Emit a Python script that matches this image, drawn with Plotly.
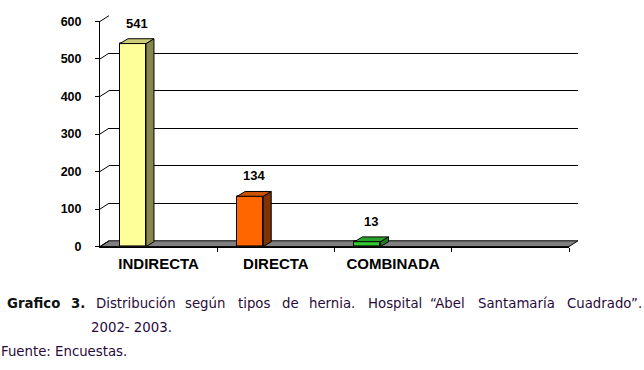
import plotly.graph_objects as go

# ---- data ----
categories = ["INDIRECTA", "DIRECTA", "COMBINADA"]
values = [541, 134, 13]
front_colors = ["#FFFF99", "#FF6600", "#33CC33"]
top_colors = ["#CCCC7A", "#CC5200", "#29A329"]
side_colors = ["#86864F", "#803300", "#1A801A"]
y_ticks = [0, 100, 200, 300, 400, 500, 600]
n_slots = 4  # one empty slot on the right

caption_line1 = [("Grafico", True, 6), ("3.", True, 70), ("Distribución", False, 95),
                 ("según", False, 184), ("tipos", False, 237), ("de", False, 281),
                 ("hernia.", False, 308), ("Hospital", False, 367), ("“Abel", False, 429),
                 ("Santamaría", False, 477), ("Cuadrado”.", False, 566)]
caption_line2 = "2002- 2003."
caption_line3 = "Fuente: Encuestas."

# ---- layout geometry (pixels) ----
W, H = 644, 370
FX0, FX1 = 100, 569      # front plot x extent
FY0, FY1 = 249, 15       # front y pixel of 0 and 600
DX, DY = 9, 6            # wall depth offset
BDX, BDY = 8, 5          # bar depth offset
BAR_OFF, BAR_W = -0.33, 0.222

xr = [-0.5, n_slots - 0.5]
yr = [0, 600]
px_per_x = (FX1 - FX0) / (xr[1] - xr[0])
px_per_y = (FY0 - FY1) / (yr[1] - yr[0])
dxu = BDX / px_per_x
dyu = BDY / px_per_y

def fx(px):
    return px / W

def fy(py):
    return 1 - py / H

def ypx(v):
    return FY0 - (v - yr[0]) * px_per_y

fig = go.Figure()

# front faces
fig.add_trace(go.Bar(
    x=list(range(len(values))), y=values, width=BAR_W, offset=BAR_OFF,
    marker=dict(color=front_colors, line=dict(color="black", width=1)),
    xaxis="x2", yaxis="y2", hoverinfo="skip", showlegend=False))

# side and top faces computed from values
for i, v in enumerate(values):
    x0 = i + BAR_OFF
    x1 = x0 + BAR_W
    fig.add_trace(go.Scatter(
        x=[x1, x1 + dxu, x1 + dxu, x1, x1], y=[0, dyu, v + dyu, v, 0],
        fill="toself", fillcolor=side_colors[i], mode="lines",
        line=dict(color="black", width=1), xaxis="x2", yaxis="y2",
        hoverinfo="skip", showlegend=False))
    fig.add_trace(go.Scatter(
        x=[x0, x0 + dxu, x1 + dxu, x1, x0], y=[v, v + dyu, v + dyu, v, v],
        fill="toself", fillcolor=top_colors[i], mode="lines",
        line=dict(color="black", width=1), xaxis="x2", yaxis="y2",
        hoverinfo="skip", showlegend=False))
    fig.add_annotation(
        x=x0 + (BAR_W + dxu) / 2, y=v + dyu, xref="x2", yref="y2",
        text=str(v), showarrow=False, yanchor="bottom", yshift=6,
        font=dict(family="Liberation Sans, Arial", size=13, color="black", weight="bold"))

# dummy trace to activate back-wall subplot
fig.add_trace(go.Scatter(x=[None], y=[None], xaxis="x", yaxis="y",
                         showlegend=False, hoverinfo="skip"))

shapes = []
# floor
shapes.append(dict(
    type="path", xref="paper", yref="paper", layer="below",
    path=f"M {fx(FX0)} {fy(FY0)} L {fx(FX1)} {fy(FY0)} L {fx(FX1 + DX)} {fy(FY0 - DY)} "
         f"L {fx(FX0 + DX)} {fy(FY0 - DY)} Z",
    fillcolor="#808080", line=dict(color="black", width=1)))
# diagonal connectors from front axis ticks to back wall gridlines
for t in y_ticks:
    shapes.append(dict(
        type="line", xref="paper", yref="paper", layer="above",
        x0=fx(FX0), y0=fy(ypx(t)), x1=fx(FX0 + DX), y1=fy(ypx(t) - DY),
        line=dict(color="black", width=1)))

# caption
cap_font = "DejaVu Sans, Verdana"
CAP_SIZE = 13.3
for word, bold, xp in caption_line1:
    fig.add_annotation(
        x=fx(xp), y=fy(308), xref="paper", yref="paper", text=word, showarrow=False,
        xanchor="left", yanchor="middle", borderpad=0,
        font=dict(family=cap_font, size=CAP_SIZE, color="#111111" if bold else "#2a0a3a",
                  weight="bold" if bold else "normal"))
fig.add_annotation(
    x=fx(90), y=fy(333), xref="paper", yref="paper", text=caption_line2, showarrow=False,
    xanchor="left", yanchor="middle", borderpad=0,
    font=dict(family=cap_font, size=CAP_SIZE, color="#2a0a3a"))
fig.add_annotation(
    x=fx(0), y=fy(358), xref="paper", yref="paper", text=caption_line3, showarrow=False,
    xanchor="left", yanchor="middle", borderpad=0,
    font=dict(family=cap_font, size=CAP_SIZE, color="#2a0a3a"))

axis_font = dict(family="Liberation Sans, Arial", color="black", weight="bold")

fig.update_layout(
    width=W, height=H,
    margin=dict(l=0, r=0, t=0, b=0),
    paper_bgcolor="white", plot_bgcolor="rgba(0,0,0,0)",
    shapes=shapes,
    bargap=0,
    # back wall
    xaxis=dict(domain=[fx(FX0 + DX), fx(FX1 + DX)], range=xr, visible=False,
               anchor="y", fixedrange=True),
    yaxis=dict(domain=[fy(FY0 - DY), fy(FY1 - DY)], range=yr, anchor="x",
               tickvals=y_ticks, showticklabels=False, ticks="",
               showgrid=True, gridcolor="black", gridwidth=1,
               zeroline=False, showline=False, fixedrange=True),
    # front
    xaxis2=dict(domain=[fx(FX0), fx(FX1)], range=xr, anchor="y2",
                tickvals=list(range(len(categories))), ticktext=categories,
                ticks="", showgrid=False, zeroline=False,
                showline=True, linecolor="black", linewidth=1,
                minor=dict(tickvals=[k + 0.5 for k in range(n_slots)], ticks="outside",
                           ticklen=4, tickcolor="black", tickwidth=1, showgrid=False),
                tickfont=dict(size=15, **axis_font), ticklabelstandoff=3,
                fixedrange=True),
    yaxis2=dict(domain=[fy(FY0), fy(FY1)], range=yr, anchor="x2",
                tickvals=y_ticks, ticks="outside", ticklen=4, tickcolor="black",
                showgrid=False, zeroline=False,
                showline=True, linecolor="black", linewidth=1,
                tickfont=dict(size=12.5, **axis_font), ticklabelstandoff=11,
                fixedrange=True),
)

fig.write_html("out.html")
